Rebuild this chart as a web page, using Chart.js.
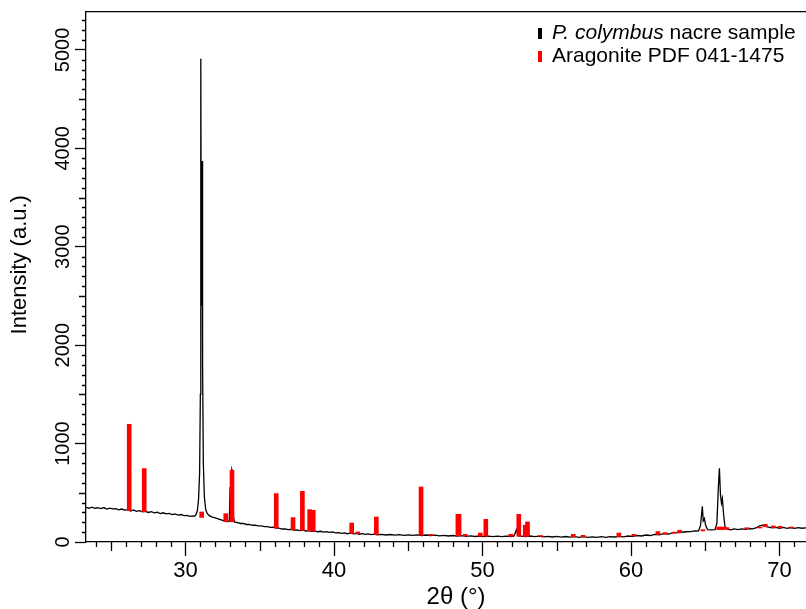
<!DOCTYPE html>
<html>
<head>
<meta charset="utf-8">
<script src="https://cdn.jsdelivr.net/npm/chart.js@4.4.0/dist/chart.umd.min.js"></script>
<style>
  html, body { margin: 0; padding: 0; background: #fff; }
  #wrap { width: 806px; height: 609px; position: relative; }
</style>
</head>
<body>
<div id="wrap"><canvas id="xrdChart"></canvas></div>
<script>
const patternAngle = [
    23.3, 23.5, 23.7, 23.9, 24.1, 24.3, 24.5, 24.7, 24.9, 25.1, 25.3, 25.5, 25.7, 25.9, 26.1, 26.3, 26.5, 26.7, 26.9, 27.1,
    27.3, 27.5, 27.7, 27.9, 28.1, 28.3, 28.5, 28.7, 28.9, 29.1, 29.3, 29.5, 29.7, 29.9, 30.1, 30.3, 30.5,
    30.6, 30.7, 30.8, 30.88, 30.95, 31.0, 31.03, 31.06, 31.09, 31.12, 31.15, 31.2, 31.27, 31.36, 31.46, 31.6, 31.8,
    32.0, 32.2, 32.4, 32.6, 32.8, 32.95, 33.0, 33.06, 33.12, 33.18, 33.23, 33.3,
    33.5, 33.7, 33.9, 34.1, 34.3, 34.5, 34.7, 34.9, 35.1, 35.3, 35.5, 35.7, 35.9, 36.1, 36.3, 36.5, 36.7, 36.9, 37.1, 37.3,
    37.5, 37.7, 37.9, 38.1, 38.3, 38.5, 38.7, 38.9, 39.1, 39.3, 39.5, 39.7, 39.9, 40.1, 40.3, 40.5, 40.7, 40.9, 41.1, 41.3,
    41.5, 41.7, 41.9, 42.1, 42.3, 42.5, 42.7, 42.9, 43.2, 43.5, 43.8, 44.1, 44.4, 44.7, 45.0, 45.3, 45.6, 45.9, 46.2, 46.5,
    46.8, 47.1, 47.4, 47.7, 48.0, 48.3, 48.6, 48.9, 49.2, 49.5, 49.8, 50.1, 50.4, 50.7, 51.0, 51.3, 51.6, 51.9,
    52.1, 52.2, 52.28, 52.34, 52.42, 52.6, 52.9, 53.2, 53.5, 53.8, 54.1, 54.4, 54.7, 55.0, 55.3, 55.6, 55.9, 56.2, 56.5, 56.8,
    57.1, 57.4, 57.7, 58.0, 58.3, 58.6, 58.9, 59.2, 59.5, 59.8, 60.1, 60.4, 60.7, 61.0, 61.3, 61.6, 61.9, 62.2, 62.5, 62.8,
    63.1, 63.4, 63.7, 64.0, 64.3, 64.55, 64.68, 64.76, 64.8, 64.86, 64.94, 65.02, 65.15, 65.4, 65.65, 65.78, 65.88, 65.95,
    66.02, 66.09, 66.15, 66.22, 66.32, 66.45, 66.7, 66.95, 67.2, 67.45, 67.7, 67.95, 68.2, 68.45, 68.65, 68.85, 69.05, 69.25,
    69.5, 69.75, 70.0, 70.25, 70.5, 70.75, 71.0, 71.25, 71.5, 71.78
];
const patternIntensity = [
    352, 343, 354, 341, 348, 339, 350, 334, 343, 336, 339, 327, 335, 324, 329, 314, 326, 311, 318, 306,
    312, 300, 308, 296, 302, 289, 297, 286, 291, 279, 286, 273, 279, 268, 271, 260, 266,
    261, 275, 320, 440, 700, 1500, 4910, 2800, 2400, 3870, 1800, 800, 460, 330, 290, 268, 252,
    244, 234, 224, 214, 207, 212, 545, 535, 735, 700, 250, 204,
    197, 188, 189, 178, 178, 170, 170, 164, 163, 157, 157, 149, 150, 140, 140, 132, 134, 126, 129, 121,
    124, 116, 121, 112, 115, 108, 113, 104, 109, 100, 105, 97, 102, 93, 96, 88, 92, 84, 90, 82,
    88, 79, 84, 77, 83, 75, 80, 73, 78, 71, 76, 69, 74, 68, 72, 67, 72, 66, 71, 65,
    69, 63, 67, 61, 66, 60, 64, 58, 62, 56, 61, 55, 60, 55, 60, 54, 59, 56,
    60, 90, 125, 95, 62, 60, 55, 61, 54, 59, 53, 58, 51, 57, 50, 56, 49, 55, 48, 54,
    47, 53, 47, 54, 48, 55, 51, 58, 53, 61, 57, 66, 61, 71, 66, 78, 72, 85, 80, 92,
    95, 99, 104, 106, 112, 114, 170, 300, 363, 215, 238, 170, 126, 123, 125, 190, 560, 750,
    480, 395, 441, 300, 160, 132, 124, 134, 125, 133, 129, 137, 133, 145, 165, 172, 158, 152,
    144, 149, 140, 148, 139, 147, 138, 146, 140, 144
];

// Aragonite PDF 041-1475 reference lines: position, foot (on the scan), top
const refAngle = [26.21, 27.22, 31.09, 32.71, 33.13, 36.11, 37.24, 37.87, 38.36, 38.60, 41.19, 41.6, 42.85, 45.86, 46.53,
    48.34, 48.42, 48.84, 49.85, 50.22, 51.9, 52.44, 52.88, 53.03, 53.92, 56.11, 56.77, 59.18, 60.19, 61.81, 62.29, 62.9,
    63.27, 64.84, 65.9, 66.1, 66.3, 66.45, 67.79, 68.69, 69.04, 69.58, 70.03, 70.82];
const refBase = [318, 308, 250, 206, 205, 142, 124, 119, 113, 111, 87, 85, 76, 68, 67,
    62, 62, 60, 59, 58, 57, 58, 57, 58, 57, 53, 52, 55, 61, 76, 80, 90,
    93, 112, 125, 125, 130, 130, 133, 142, 155, 147, 143, 143];
const refTop = [1196, 746, 305, 288, 729, 492, 248, 515, 329, 322, 193, 102, 254, 559, 78,
    281, 281, 78, 91, 231, 78, 281, 170, 204, 66, 78, 68, 91, 78, 106, 95, 100,
    119, 125, 152, 152, 150, 146, 145, 152, 180, 163, 160, 152];

const xTickValues = [30, 40, 50, 60, 70];
const yTickValues = [0, 1000, 2000, 3000, 4000, 5000];

const xMin = 23.3, xMax = 71.78;
const yMin = 0, yMax = 5385;
const xMinorStep = 1, yMinorStep = 100;

const FONT = "'Liberation Sans', Arial, sans-serif";
Chart.defaults.font.family = FONT;
Chart.defaults.color = '#000';

// small ticks between the labelled ones
const minorTicks = {
    id: 'minorTicks',
    afterDraw(chart) {
        const {ctx, scales: {x, y}} = chart;
        ctx.save();
        ctx.strokeStyle = '#000';
        ctx.lineWidth = 1.3;
        ctx.beginPath();
        for (let v = Math.ceil(xMin); v <= xMax; v += xMinorStep) {
            if (xTickValues.includes(v)) continue;
            const len = v % 5 === 0 ? 9 : 5;
            const px = Math.round(x.getPixelForValue(v)) + 0.5;
            ctx.moveTo(px, x.top);
            ctx.lineTo(px, x.top + len);
        }
        for (let v = yMinorStep; v <= yMax; v += yMinorStep) {
            if (yTickValues.includes(v)) continue;
            const len = v % 500 === 0 ? 7 : 4;
            const py = Math.round(y.getPixelForValue(v)) + 0.5;
            ctx.moveTo(y.right - len, py);
            ctx.lineTo(y.right, py);
        }
        ctx.stroke();
        ctx.restore();
    }
};

// legend with the italic species name
const xrdLegend = {
    id: 'xrdLegend',
    afterDraw(chart) {
        const ctx = chart.ctx;
        ctx.save();
        ctx.textBaseline = 'alphabetic';
        ctx.fillStyle = '#000';
        ctx.fillRect(538, 28, 4, 11);
        ctx.font = 'italic 21px ' + FONT;
        ctx.fillText('P. colymbus', 552, 39);
        const w = ctx.measureText('P. colymbus').width;
        ctx.font = '21px ' + FONT;
        ctx.fillText(' nacre sample', 552 + w, 39);
        ctx.fillStyle = '#ff0000';
        ctx.fillRect(538, 51, 4, 11);
        ctx.fillStyle = '#000';
        ctx.fillText('Aragonite PDF 041-1475', 552, 62);
        ctx.restore();
    }
};

const ctx = document.getElementById('xrdChart').getContext('2d');
const chart = new Chart(ctx, {
    type: 'bar',
    data: {
        datasets: [
            {
                type: 'bar',
                label: 'Aragonite PDF 041-1475',
                data: refAngle.map((a, i) => ({x: a, y: [refBase[i], refTop[i]]})),
                backgroundColor: '#ff0000',
                borderWidth: 0,
                barThickness: 4,
                order: 0
            },
            {
                type: 'line',
                label: 'P. colymbus nacre sample',
                data: patternAngle.map((a, i) => ({x: a, y: patternIntensity[i]})),
                borderColor: '#000',
                borderWidth: 1.3,
                pointRadius: 0,
                tension: 0,
                fill: false,
                order: 1
            }
        ]
    },
    options: {
        responsive: true,
        maintainAspectRatio: false,
        animation: false,
        events: [],
        layout: { padding: 0 },
        plugins: {
            legend: { display: false },
            tooltip: { enabled: false }
        },
        scales: {
            x: {
                type: 'linear',
                position: 'bottom',
                min: xMin,
                max: xMax,
                offset: false,
                afterBuildTicks(scale) { scale.ticks = xTickValues.map(v => ({value: v})); },
                ticks: {
                    maxRotation: 0,
                    padding: 2,
                    font: { size: 22 },
                    callback: v => String(v)
                },
                grid: { drawOnChartArea: false, offset: false, tickLength: 14, tickColor: '#000', tickWidth: 1.3 },
                border: { color: '#000', width: 1.3 },
                title: {
                    display: true,
                    text: '   2θ (°)',
                    font: { size: 24, lineHeight: 1 },
                    padding: { top: 0, bottom: 0 }
                },
                afterFit(scale) { scale.height = 67; }
            },
            x2: {
                type: 'linear',
                position: 'top',
                min: xMin,
                max: xMax,
                ticks: { display: false },
                grid: { drawOnChartArea: false, drawTicks: false },
                border: { color: '#000', width: 1.3 },
                afterFit(scale) { scale.height = 12; }
            },
            y: {
                type: 'linear',
                min: yMin,
                max: yMax,
                afterBuildTicks(scale) { scale.ticks = yTickValues.map(v => ({value: v})); },
                ticks: {
                    minRotation: 90,
                    maxRotation: 90,
                    crossAlign: 'center',
                    padding: -11,
                    font: { size: 20 },
                    callback: v => String(v)
                },
                grid: { drawOnChartArea: false, tickLength: 11, tickColor: '#000', tickWidth: 1.3 },
                border: { color: '#000', width: 1.3 },
                title: {
                    display: true,
                    text: '    Intensity (a.u.)',
                    font: { size: 22, lineHeight: 1 },
                    padding: { top: 9, bottom: 0 }
                },
                afterFit(scale) { scale.width = 86; }
            }
        }
    },
    plugins: [minorTicks, xrdLegend]
});
</script>
</body>
</html>
